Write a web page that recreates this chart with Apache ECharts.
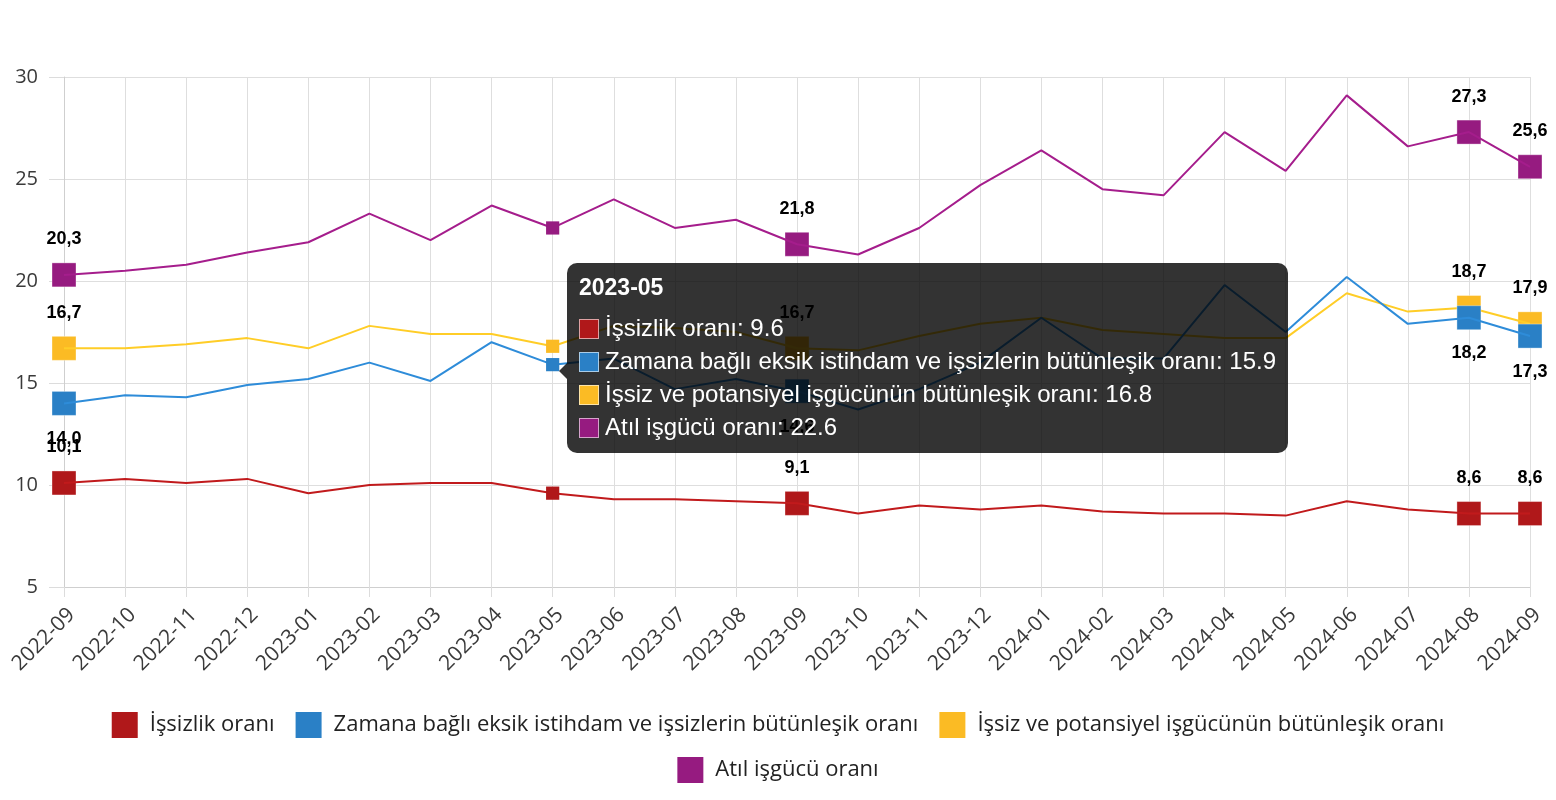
<!DOCTYPE html>
<html>
<head>
<meta charset="utf-8">
<script src="https://cdn.jsdelivr.net/npm/echarts@6/dist/echarts.min.js"></script>
<style>
html,body{margin:0;padding:0;background:#fff;}
#chart{width:1556px;height:800px;}
</style>
</head>
<body>
<div id="chart"></div>
<script>
const categories = ['2022-09','2022-10','2022-11','2022-12','2023-01','2023-02','2023-03','2023-04','2023-05','2023-06','2023-07','2023-08','2023-09','2023-10','2023-11','2023-12','2024-01','2024-02','2024-03','2024-04','2024-05','2024-06','2024-07','2024-08','2024-09'];
const seriesNames = ['İşsizlik oranı','Zamana bağlı eksik istihdam ve işsizlerin bütünleşik oranı','İşsiz ve potansiyel işgücünün bütünleşik oranı','Atıl işgücü oranı'];
const unemployment = [10.1,10.3,10.1,10.3,9.6,10.0,10.1,10.1,9.6,9.3,9.3,9.2,9.1,8.6,9.0,8.8,9.0,8.7,8.6,8.6,8.5,9.2,8.8,8.6,8.6];
const timeRelated = [14.0,14.4,14.3,14.9,15.2,16.0,15.1,17.0,15.9,16.2,14.7,15.2,14.6,13.7,14.7,16.0,18.2,16.2,16.2,19.8,17.5,20.2,17.9,18.2,17.3];
const potential = [16.7,16.7,16.9,17.2,16.7,17.8,17.4,17.4,16.8,17.8,17.7,17.5,16.7,16.6,17.3,17.9,18.2,17.6,17.4,17.2,17.2,19.4,18.5,18.7,17.9];
const underutil = [20.3,20.5,20.8,21.4,21.9,23.3,22.0,23.7,22.6,24.0,22.6,23.0,21.8,21.3,22.6,24.7,26.4,24.5,24.2,27.3,25.4,29.1,26.6,27.3,25.6];
const markedIndices = [0,12,23,24];
const labelSides = ['top','bottom','top','top'];
const colors = ['#b0181a','#2a80c6','#fbbb24','#961b80'];
const yTicks = {min:5, max:30, interval:5};
const tooltipIndex = 8;

const allData = [unemployment, timeRelated, potential, underutil];
const fmt = v => v.toFixed(1).replace('.', ',');

const series = allData.map((arr, s) => ({
  name: seriesNames[s],
  type: 'line',
  data: arr,
  z: 10 - s,
  color: colors[s],
  lineStyle: {width: 2, color: colors[s]},
  showSymbol: false,
  symbol: 'rect',
  symbolSize: 11,
  emphasis: {scale: 1.2, lineStyle:{width:2}},
  markPoint: {
    symbol: 'rect',
    symbolSize: 24,
    z: 10 - s,
    itemStyle: {color: colors[s], borderColor: 'rgba(255,255,255,0.35)', borderWidth: 1},
    label: {
      show: true,
      position: labelSides[s],
      distance: 14,
      color: '#000',
      fontFamily: '"Liberation Sans", Arial, sans-serif',
      fontWeight: 'bold',
      fontSize: 18,
      formatter: p => fmt(p.value)
    },
    data: markedIndices.map(i => ({coord: [i, arr[i]], value: arr[i]}))
  }
}));

const legendBase = {
  left: 'center',
  icon: 'rect',
  itemWidth: 26,
  itemHeight: 26,
  itemGap: 21,
  textStyle: {fontSize: 22, color: '#222', fontFamily: '"Open Sans", sans-serif', padding: [0, 0, 0, 7]}
};

const chart = echarts.init(document.getElementById('chart'), null, {renderer: 'canvas'});
chart.setOption({
  animation: false,
  grid: {left: 64, right: 26, top: 77, bottom: 213, containLabel: false},
  legend: [
    Object.assign({}, legendBase, {top: 707, data: seriesNames.slice(0, 3)}),
    Object.assign({}, legendBase, {top: 752, data: seriesNames.slice(3)})
  ],
  tooltip: {
    trigger: 'axis',
    alwaysShowContent: true,
    transitionDuration: 0,
    axisPointer: {type: 'line', lineStyle: {color: 'rgba(0,0,0,0)'}},
    backgroundColor: 'rgba(0,0,0,0.8)',
    borderWidth: 0,
    padding: [12, 12, 10, 12],
    position: () => [567, 263],
    extraCssText: 'border-radius:10px;box-shadow:none;overflow:visible;',
    formatter: params => {
      let h = '<div style="position:relative;font-family:\'Liberation Sans\',Arial,sans-serif;color:#fff;">';
      h += '<span style="position:absolute;left:-20px;top:88px;width:0;height:0;border-top:8px solid transparent;border-bottom:8px solid transparent;border-right:8px solid rgba(0,0,0,0.8);"></span>';
      h += '<div style="font-weight:bold;font-size:23px;line-height:24px;margin-bottom:12px;">' + params[0].axisValue + '</div>';
      params.forEach(p => {
        h += '<div style="font-size:24px;line-height:33px;height:33px;white-space:nowrap;">'
          + '<span style="display:inline-block;width:18px;height:18px;background:' + colors[p.seriesIndex] + ';border:1px solid rgba(255,255,255,0.6);vertical-align:-3px;margin-right:6px;"></span>'
          + p.seriesName + ': ' + p.value + '</div>';
      });
      h += '</div>';
      return h;
    }
  },
  xAxis: {
    type: 'category',
    data: categories,
    boundaryGap: false,
    axisLine: {show: true, lineStyle: {color: '#cfcfcf', width: 1}},
    axisTick: {show: true, length: 10, lineStyle: {color: '#dcdcdc'}},
    splitLine: {show: true, lineStyle: {color: '#dedede', width: 1}},
    axisLabel: {rotate: 45, fontSize: 21, color: '#3a3a3a', margin: 17, verticalAlign: 'top', fontFamily: '"Open Sans", sans-serif', interval: 0}
  },
  yAxis: {
    type: 'value',
    min: yTicks.min,
    max: yTicks.max,
    interval: yTicks.interval,
    axisLine: {show: true, lineStyle: {color: '#cfcfcf'}},
    axisTick: {show: true, length: 15, lineStyle: {color: '#dcdcdc'}},
    splitLine: {show: true, lineStyle: {color: '#dedede'}},
    axisLabel: {fontSize: 20, color: '#3a3a3a', margin: 26, fontFamily: '"Open Sans", sans-serif'}
  },
  series: series
});
chart.dispatchAction({type: 'showTip', seriesIndex: 0, dataIndex: tooltipIndex});
</script>
</body>
</html>
